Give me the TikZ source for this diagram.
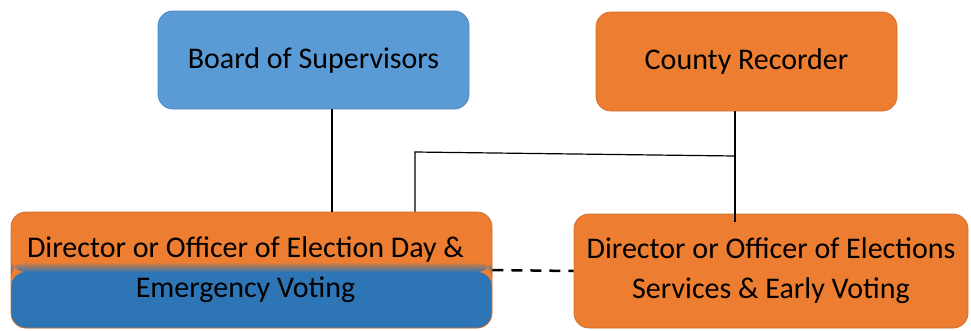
\documentclass[tikz,border=0pt]{standalone}
\usepackage{fontspec}
\setmainfont{Carlito}
\usepackage{xcolor}
\usetikzlibrary{positioning}

\definecolor{boardblue}{HTML}{5B9BD5}
\definecolor{dayblue}{HTML}{2E75B6}
\definecolor{recorange}{HTML}{ED7D31}
\definecolor{orangeedge}{HTML}{D0702C}
\definecolor{blueedge}{HTML}{4A86BE}

\begin{document}
\begin{tikzpicture}[x=1pt, y=-1pt,
  block/.style={rectangle, draw=orangeedge, line width=0.8pt, fill=recorange, rounded corners=15pt,
    align=center, inner sep=0pt, font=\fontsize{30}{40}\selectfont},
  bluebox/.style={block, draw=blueedge, fill=boardblue},
  split/.style={block, path picture={
    \fill[dayblue] ([yshift=-60pt]path picture bounding box.north west) rectangle (path picture bounding box.south east);
    \shade[top color=recorange, bottom color=dayblue] ([yshift=-50pt]path picture bounding box.north west) rectangle ([yshift=-60pt]path picture bounding box.north east);}},
  line/.style={draw, line width=1.2pt},
  dash line/.style={draw, line width=2.5pt, dash pattern=on 11pt off 8pt}]

  \useasboundingbox (0,0) rectangle (971,330);

  \node [bluebox, minimum width=311pt, minimum height=98pt] (board) at (313.5,60) {Board of Supervisors};
  \node [block, minimum width=301pt, minimum height=99pt] (recorder) at (746.5,61.5) {County Recorder};
  \node [split, minimum width=481pt, minimum height=116pt] (eday) at (251.5,270) {Director or Officer of Election Day \&\hspace*{12pt}\\Emergency Voting\hspace*{12pt}};
  \node [block, minimum width=394pt, minimum height=114pt] (early) at (771,271) {Director or Officer of Elections\\Services \& Early Voting};

  % connectors
  \coordinate (bx) at (332,0);
  \coordinate (ex) at (415,152);
  \coordinate (rj) at (735,156);
  \coordinate (rend) at (735,222);

  \draw [line] (bx |- board.south) -- (bx |- eday.north);
  \draw [line] (rj |- recorder.south) -- (rend);
  \draw [line] (rj) -- (ex) -- (ex |- eday.north);
  \draw [dash line] (eday.east) -- (early.west);
\end{tikzpicture}
\end{document}
